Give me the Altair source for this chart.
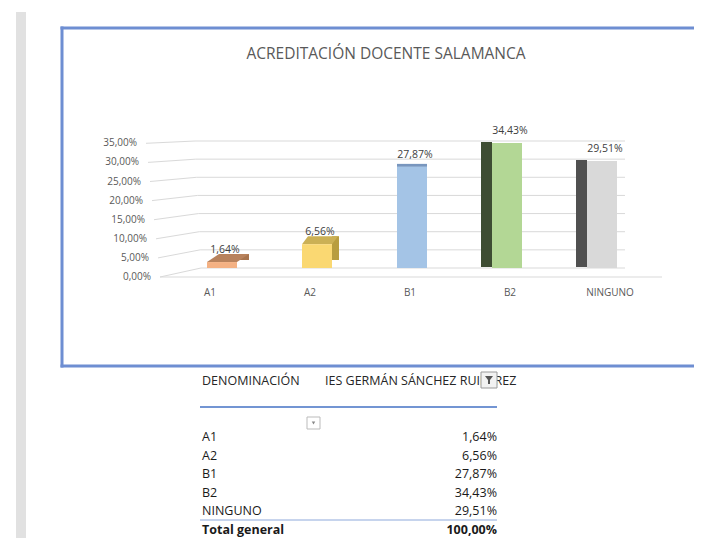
import altair as alt
import pandas as pd

# ---- data ----
categories = ["A1", "A2", "B1", "B2", "NINGUNO"]
percent = [1.64, 6.56, 27.87, 34.43, 29.51]
tick_values = [0, 5, 10, 15, 20, 25, 30, 35]
table_rows = ["A1", "A2", "B1", "B2", "NINGUNO", "Total general"]
table_values = [1.64, 6.56, 27.87, 34.43, 29.51, 100.00]
title_text = "ACREDITACIÓN DOCENTE SALAMANCA"
header_left = "DENOMINACIÓN"
header_right = "IES GERMÁN SÁNCHEZ RUIPÉREZ"

# ---- styles ----
front_colors = ["#F4B183", "#FAD872", "#A4C4E6", "#B3D795", "#D9D9D9"]
top_colors = ["#B8825C", "#CBB055", "#7896BE", "#8FB36F", "#C8C8C8"]
side_colors = ["#A8744E", "#B89D3F", "#7C9CC4", "#3E4D33", "#505050"]
FONT = "Open Sans"
FRAME = "#6E8ED2"

bars = pd.DataFrame({"cat": categories, "pct": percent})
ticks = pd.DataFrame({"v": tick_values})
table = pd.DataFrame({"row": table_rows, "val": table_values})
one = pd.DataFrame({"k": [0]})

fmt = "replace(format(datum.{f}, '.2f'), '.', ',') + '%'"

x_bar = alt.Scale(type="band", domain=categories, range=[166.5, 641.5], paddingInner=0, paddingOuter=0)
x_lab = alt.Scale(type="band", domain=categories, range=[152, 652], paddingInner=0, paddingOuter=0)
y_bar = alt.Scale(domain=[0, 35], range=[260, 133], nice=False, zero=True)
c_front = alt.Scale(domain=categories, range=front_colors)
c_top = alt.Scale(domain=categories, range=top_colors)
c_side = alt.Scale(domain=categories, range=side_colors)
y_tab = alt.Scale(type="point", domain=table_rows, range=[429, 522], padding=0)

X = alt.X("cat:N", scale=x_bar, axis=None)
Y = alt.Y("pct:Q", scale=y_bar, axis=None)


def only(cats):
    return alt.FieldOneOfPredicate(field="cat", oneOf=cats)


# left grey strip (spreadsheet edge)
strip = alt.Chart(one).mark_rect(color="#E1E1E1").encode(
    x=alt.value(8), x2=alt.value(18), y=alt.value(4), y2=alt.value(540))

# chart frame (open on the right, it continues past the window)
frame_top = alt.Chart(one).mark_rule(color=FRAME, strokeWidth=3, strokeCap="square").encode(
    x=alt.value(54), x2=alt.value(700), y=alt.value(20))
frame_bottom = alt.Chart(one).mark_rule(color=FRAME, strokeWidth=3, strokeCap="square").encode(
    x=alt.value(54), x2=alt.value(700), y=alt.value(358))
frame_left = alt.Chart(one).mark_rule(color=FRAME, strokeWidth=3, strokeCap="square").encode(
    x=alt.value(54), y=alt.value(20), y2=alt.value(358))

title = alt.Chart(one).mark_text(font=FONT, fontSize=15.5, color="#595959").encode(
    x=alt.value(378), y=alt.value(46), text=alt.value(title_text))

# gridlines (perspective floor/back wall)
grid_base = alt.Chart(ticks).transform_calculate(
    fx="152 - 14 * datum.v / 35",
    fy="269 - 133.7 * datum.v / 35",
    bx="193 - 6 * datum.v / 35",
    by="260 - 127 * datum.v / 35",
    label=fmt.format(f="v"),
)
grid_back = grid_base.mark_rule(color="#D9D9D9", strokeWidth=1).encode(
    x=alt.X("bx:Q", scale=None), x2=alt.value(617),
    y=alt.Y("v:Q", scale=y_bar, axis=None))
grid_slant = grid_base.mark_rule(color="#D9D9D9", strokeWidth=1).encode(
    x=alt.X("fx:Q", scale=None), x2=alt.X2("bx:Q"),
    y=alt.Y("fy:Q", scale=None), y2=alt.Y2("by:Q"))
floor_front = alt.Chart(one).mark_rule(color="#D9D9D9", strokeWidth=1).encode(
    x=alt.value(152), x2=alt.value(654), y=alt.value(269))
y_labels = grid_base.transform_calculate(lx="datum.fx - 9").mark_text(
    font=FONT, fontSize=10, color="#595959", align="right", baseline="middle").encode(
    x=alt.X("lx:Q", scale=None), y=alt.Y("fy:Q", scale=None), text="label:N")

x_labels = alt.Chart(bars).mark_text(font=FONT, fontSize=10, color="#595959", baseline="middle").encode(
    x=alt.X("cat:N", scale=x_lab, axis=None), y=alt.value(285), text="cat:N")

# 3D-ish faces
side_a1 = alt.Chart(bars).transform_filter(only(["A1"])).mark_bar(
    width=12, xOffset=21, yOffset=-8, y2Offset=-5).encode(
    x=X, y=Y, color=alt.Color("cat:N", scale=c_side, legend=None))
side_a2 = alt.Chart(bars).transform_filter(only(["A2"])).mark_bar(
    width=7, xOffset=18.5, yOffset=-8, y2Offset=-5).encode(
    x=X, y=Y, color=alt.Color("cat:N", scale=c_side, legend=None))
top_a1 = alt.Chart(bars).transform_filter(only(["A1"])).mark_point(
    shape="M -0.75 0 L 0.75 0 L 1.35 -0.4 L -0.15 -0.4 Z",
    filled=True, size=1600, opacity=1, strokeWidth=0).encode(
    x=X, y=Y, color=alt.Color("cat:N", scale=c_top, legend=None))
top_a2 = alt.Chart(bars).transform_filter(only(["A2"])).mark_point(
    shape="M -0.75 0 L 0.75 0 L 1.05 -0.4 L -0.45 -0.4 Z",
    filled=True, size=1600, opacity=1, strokeWidth=0).encode(
    x=X, y=Y, color=alt.Color("cat:N", scale=c_top, legend=None))
side_left = alt.Chart(bars).transform_filter(only(["B2", "NINGUNO"])).mark_bar(
    width=11, xOffset=-20.5, yOffset=-1, y2Offset=-6).encode(
    x=X, y=Y, color=alt.Color("cat:N", scale=c_side, legend=None))
cap = alt.Chart(bars).transform_filter(only(["B1"])).mark_bar(
    width=30, yOffset=-3).encode(
    x=X, y=Y, y2=alt.Y2("pct:Q"),
    color=alt.Color("cat:N", scale=c_top, legend=None))
front = alt.Chart(bars).mark_bar(width=30).encode(
    x=X, y=Y, color=alt.Color("cat:N", scale=c_front, legend=None))
data_labels = alt.Chart(bars).transform_calculate(label=fmt.format(f="pct")).mark_text(
    font=FONT, fontSize=10.5, color="#404040", baseline="middle", dy=-12, dx=3).encode(
    x=X, y=Y, text="label:N")

# pivot table below
h_left = alt.Chart(one).mark_text(font=FONT, fontSize=12.5, color="#262626", align="left", baseline="middle").encode(
    x=alt.value(194), y=alt.value(373), text=alt.value(header_left))
h_right = alt.Chart(one).mark_text(font=FONT, fontSize=12.5, color="#262626", align="left", baseline="middle").encode(
    x=alt.value(317), y=alt.value(373), text=alt.value(header_right))
filt_box = alt.Chart(one).mark_rect(fill="#F2F2F2", stroke="#9A9A9A", strokeWidth=1).encode(
    x=alt.value(473), x2=alt.value(489), y=alt.value(364), y2=alt.value(380))
filt_icon = alt.Chart(one).mark_point(shape="M -1 -1 L 1 -1 L 0.25 0 L 0.25 1 L -0.25 1 L -0.25 0 Z",
                                      filled=True, size=64, color="#555555", opacity=1).encode(
    x=alt.value(481), y=alt.value(372))
blue_line = alt.Chart(one).mark_rule(color="#4472C4", strokeWidth=1.5).encode(
    x=alt.value(192), x2=alt.value(489), y=alt.value(399))
dd_box = alt.Chart(one).mark_rect(fill="white", stroke="#BBBBBB", strokeWidth=1).encode(
    x=alt.value(299), x2=alt.value(312), y=alt.value(409), y2=alt.value(421))
dd_icon = alt.Chart(one).mark_point(shape="triangle-down", filled=True, size=12,
                                    color="#888888", opacity=1).encode(
    x=alt.value(305.5), y=alt.value(415))

tab_base = alt.Chart(table).transform_calculate(label=fmt.format(f="val"))
YT = alt.Y("row:N", scale=y_tab, axis=None)
rows_l = tab_base.transform_filter("datum.row != 'Total general'").mark_text(
    font=FONT, fontSize=12.5, color="#1A1A1A", align="left", baseline="middle").encode(
    x=alt.value(194), y=YT, text="row:N")
rows_r = tab_base.transform_filter("datum.row != 'Total general'").mark_text(
    font=FONT, fontSize=12.5, color="#1A1A1A", align="right", baseline="middle").encode(
    x=alt.value(489), y=YT, text="label:N")
tot_l = tab_base.transform_filter("datum.row == 'Total general'").mark_text(
    font=FONT, fontSize=12.5, fontWeight="bold", color="#1A1A1A", align="left", baseline="middle").encode(
    x=alt.value(194), y=YT, text="row:N")
tot_r = tab_base.transform_filter("datum.row == 'Total general'").mark_text(
    font=FONT, fontSize=12.5, fontWeight="bold", color="#1A1A1A", align="right", baseline="middle").encode(
    x=alt.value(489), y=YT, text="label:N")
tot_line = alt.Chart(one).mark_rule(color="#8EA9DB", strokeWidth=1).encode(
    x=alt.value(192), x2=alt.value(489), y=alt.value(512))

chart = alt.layer(
    strip, frame_top, frame_bottom, frame_left, title,
    grid_back, grid_slant, floor_front, y_labels, x_labels,
    side_a1, side_a2, top_a1, top_a2, side_left, cap, front, data_labels,
    h_left, h_right, filt_box, filt_icon, blue_line, dd_box, dd_icon,
    rows_l, rows_r, tot_l, tot_r, tot_line,
).resolve_scale(
    x="independent", y="independent", color="independent"
).properties(
    width=686, height=530, padding=0,
    autosize=alt.AutoSizeParams(type="none"),
    background="white",
).configure_view(stroke=None)

chart.save("out.html", embed_options={"renderer": "svg", "actions": False})
